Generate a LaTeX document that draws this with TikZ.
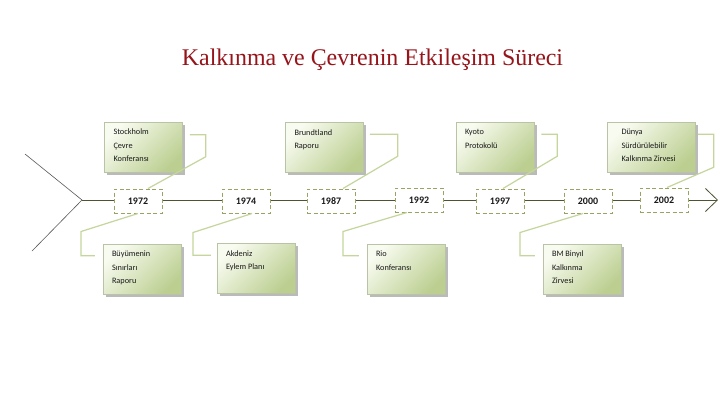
\documentclass[tikz,border=0pt]{standalone}
\usepackage{fontspec}
\setmainfont{Carlito}
\newfontfamily\titlefont{Liberation Serif}
\usepackage{tikz}
\usetikzlibrary{arrows.meta, shadows}
\definecolor{TitleRed}{RGB}{150, 20, 26}
\definecolor{BoxLight}{RGB}{248, 251, 240}
\definecolor{BoxDark}{RGB}{188, 207, 145}
\definecolor{BoxEdge}{RGB}{185, 195, 165}
\definecolor{YearEdge}{RGB}{150, 165, 100}
\definecolor{LinkGreen}{RGB}{196, 214, 156}
\definecolor{AxisDark}{RGB}{75, 85, 50}
\newcommand{\evtext}[1]{\parbox[t][36bp][t]{60bp}{\raggedright #1}}

\begin{document}
\begin{tikzpicture}[x=1bp, y=-1bp, font=\fontsize{8.3}{13.5}\selectfont, ev/.style={draw=BoxEdge, line width=0.5bp, top color=BoxLight, bottom color=BoxDark, shading angle=45, minimum width=78bp, inner xsep=9bp, inner ysep=7bp, text=black!90, drop shadow={shadow xshift=2.5bp, shadow yshift=-2.5bp, fill=black!45, opacity=0.6}}, yr/.style={draw=YearEdge, line width=1bp, dash pattern=on 4bp off 2.5bp, fill=white, minimum width=48bp, minimum height=24bp, text=black!90, font=\bfseries\fontsize{10}{12}\selectfont}, ln/.style={LinkGreen, line width=1.2bp}, ax/.style={AxisDark, line width=0.8bp}]
\path[fill=white, use as bounding box] (0,0) rectangle (720,405);
\node[font=\titlefont\fontsize{24}{26}\selectfont, text=TitleRed, anchor=base] (title) at (372.5,65) {Kalkınma ve Çevrenin Etkileşim Süreci};
% time axis
\coordinate (tail) at (82,200); \coordinate (head) at (718,200);
\draw[ax, black!65, line width=0.6bp] (25,154) -- (tail) -- (32,251);
\draw[ax, -{Straight Barb[length=12bp, width=23bp]}] (tail) -- (head);
% years
\node[yr] (y1) at (138,201) {1972};
\node[yr] (y2) at (246,201) {1974};
\node[yr] (y3) at (331,201) {1987};
\node[yr] (y4) at (419,200) {1992};
\node[yr] (y5) at (500,201) {1997};
\node[yr] (y6) at (588,201) {2000};
\node[yr] (y7) at (664,200) {2002};
% events above
\node[ev] (u1) at (143.5,147) {\evtext{Stockholm\\Çevre\\Konferansı}};
\node[ev] (u2) at (324.5,147.5) {\evtext{Brundtland\\Raporu}};
\node[ev] (u3) at (495,147.5) {\evtext{Kyoto\\Protokolü}};
\node[ev, minimum width=88bp] (u4) at (651.5,147.5) {\evtext{Dünya\\Sürdürülebilir\\Kalkınma Zirvesi}};
% events below
\node[ev] (d1) at (142,269) {\evtext{Büyümenin\\Sınırları\\Raporu}};
\node[ev] (d2) at (256,268.5) {\evtext{Akdeniz\\Eylem Planı}};
\node[ev] (d3) at (406,269) {\evtext{Rio\\Konferansı}};
\node[ev] (d4) at (582,269) {\evtext{BM Binyıl\\Kalkınma\\Zirvesi}};
% links
\draw[ln] ([shift={(7,13)}]u1.north east) -| ++(16,22) -- ([xshift=10bp]y1.north);
\draw[ln] ([shift={(6,12)}]u2.north east) -| ++(28,22) -- ([xshift=12bp]y3.north);
\draw[ln] ([shift={(7,12)}]u3.north east) -| ++(16,22) -- ([xshift=3bp]y5.north);
\draw[ln] ([shift={(2,12)}]u4.north east) -| ++(16,33) -- ([xshift=3bp]y7.north);
\draw[ln] (y1.south) -- ++(-57,18) |- ([shift={(-8,12)}]d1.north west);
\draw[ln] ([xshift=6bp]y2.south) -- ++(-59,19) |- ([shift={(-6,12)}]d2.north west);
\draw[ln] ([xshift=-12bp]y4.south) -- ++(-64,19) |- ([shift={(-8,12)}]d3.north west);
\draw[ln] ([xshift=-5bp]y6.south) -- ++(-63,19) |- ([shift={(-8,12)}]d4.north west);
\end{tikzpicture}
\end{document}
